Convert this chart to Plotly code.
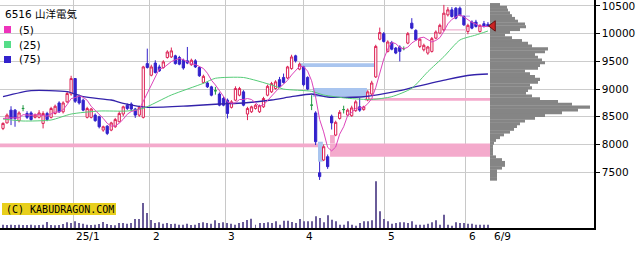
import plotly.graph_objects as go

# ---------------- data ----------------
days = list(range(122))
opens = [8290, 8390, 8620, 8620, 8430, 8650, 8560, 8570, 8490, 8490,
         8380, 8560, 8490, 8560, 8750, 8590, 8770, 8910, 9190, 8860,
         8800, 8490, 8490, 8530, 8500, 8260, 8330, 8260, 8320, 8410,
         8550, 8710, 8730, 8640, 8530, 8490, 9460, 9250, 9470, 9400,
         9390, 9570, 9580, 9600, 9570, 9520, 9510, 9440, 9510, 9390,
         9120, 9110, 9040, 8970, 8910, 8830, 8800, 8670, 8800, 8890,
         8950, 8550, 8590, 8650, 8590, 8680, 8890, 8950, 9010, 9170,
         9210, 9200, 9370, 9600, 9360, 9400, 9210, 8710, 8570, 7490,
         7720, 7780, 8510, 8170, 8470, 8630, 8530, 8520, 8610, 8680,
         8630, 8810, 8910, 9220, 9900, 10000, 9680, 9840, 9740, 9760,
         9730, 9830, 10190, 10060, 9770, 9710, 9650, 9680, 9920, 10010,
         10070, 10340, 10430, 10460, 10460, 10310, 10040, 10210, 10210, 10040,
         10180, 10170]
highs = [8400, 8560, 8690, 8640, 8600, 8710, 8600, 8600, 8560, 8620,
         8600, 8590, 8680, 8720, 8780, 8780, 8960, 9240, 9200, 8900,
         8830, 8680, 8660, 8560, 8520, 8340, 8350, 8410, 8480, 8600,
         8700, 8740, 8760, 8660, 8700, 9420, 9730, 9440, 9520, 9440,
         9520, 9700, 9750, 9620, 9600, 9550, 9760, 9550, 9540, 9410,
         9260, 9140, 9060, 9040, 8940, 8860, 8830, 8800, 9050, 9040,
         8980, 8680, 8700, 8730, 8720, 8860, 9080, 9130, 9160, 9220,
         9280, 9420, 9620, 9620, 9480, 9420, 9230, 8890, 8600, 7690,
         8000, 7820, 8540, 8430, 8620, 8700, 8650, 8700, 8800, 8840,
         8700, 8980, 9150, 9800, 10110, 10030, 9880, 9870, 9760, 9790,
         9770, 10030, 10280, 10080, 9920, 9820, 9780, 9940, 10060, 10180,
         10520, 10480, 10480, 10480, 10490, 10330, 10180, 10240, 10250, 10170,
         10230, 10210]
lows = [8260, 8380, 8350, 8320, 8400, 8600, 8460, 8430, 8470, 8470,
        8290, 8420, 8470, 8540, 8570, 8560, 8750, 8880, 8750, 8720,
        8600, 8470, 8470, 8410, 8290, 8230, 8170, 8240, 8300, 8400,
        8510, 8620, 8600, 8480, 8500, 8470, 9370, 9230, 9280, 9310,
        9370, 9550, 9560, 9440, 9430, 9350, 9450, 9420, 9380, 9220,
        9100, 9020, 8870, 8900, 8690, 8690, 8470, 8650, 8780, 8870,
        8690, 8440, 8570, 8630, 8570, 8660, 8870, 8930, 8990, 9020,
        9100, 9180, 9350, 9480, 9340, 9050, 8980, 8620, 7990, 7360,
        7700, 7560, 8270, 8150, 8450, 8560, 8510, 8500, 8590, 8590,
        8610, 8780, 8890, 9200, 9880, 9840, 9660, 9700, 9630, 9500,
        9700, 9810, 10080, 9870, 9740, 9680, 9620, 9660, 9900, 9990,
        10040, 10310, 10290, 10260, 10320, 10140, 9990, 10080, 10110, 10020,
        10110, 10120]
closes = [8380, 8530, 8470, 8470, 8570, 8650, 8490, 8450, 8530, 8570,
          8560, 8450, 8650, 8690, 8590, 8750, 8920, 9190, 8780, 8750,
          8620, 8650, 8640, 8430, 8320, 8320, 8200, 8390, 8450, 8560,
          8680, 8650, 8640, 8530, 8670, 9400, 9390, 9400, 9300, 9330,
          9490, 9670, 9690, 9460, 9450, 9380, 9470, 9520, 9400, 9240,
          9230, 9040, 8890, 8970, 8710, 8710, 8560, 8770, 9010, 9010,
          8710, 8650, 8680, 8710, 8700, 8830, 9050, 9100, 9130, 9040,
          9120, 9400, 9580, 9510, 9450, 9080, 9000, 8710, 8050, 7420,
          7960, 7600, 8390, 8400, 8580, 8630, 8620, 8660, 8770, 8620,
          8680, 8950, 9110, 9770, 10020, 9860, 9850, 9720, 9650, 9680,
          9730, 10000, 10100, 9890, 9900, 9790, 9760, 9910, 10030, 10150,
          10370, 10430, 10310, 10280, 10340, 10160, 10150, 10100, 10130, 10150,
          10130, 10140]
volumes = [66, 60, 66, 60, 66, 60, 60, 66, 54, 60,
           66, 120, 60, 54, 60, 80, 114, 100, 134, 100,
           86, 66, 60, 66, 80, 120, 80, 60, 54, 100,
           100, 86, 100, 180, 180, 500, 300, 160, 100, 114,
           86, 100, 80, 86, 66, 66, 86, 60, 66, 100,
           114, 100, 86, 154, 100, 114, 100, 86, 66, 100,
           120, 160, 186, 66, 100, 100, 114, 100, 134, 66,
           146, 146, 120, 100, 180, 134, 134, 134, 234, 200,
           114, 254, 166, 134, 66, 66, 134, 66, 46, 100,
           134, 134, 154, 934, 334, 180, 134, 86, 100, 114,
           114, 100, 134, 66, 66, 66, 86, 114, 154, 66,
           266, 66, 46, 114, 100, 100, 86, 86, 66, 66,
           66, 66]
ma5 = [8470, 8480, 8480, 8480, 8484, 8538, 8530, 8526, 8538, 8538,
       8520, 8512, 8552, 8584, 8588, 8626, 8720, 8828, 8846, 8878,
       8852, 8798, 8688, 8618, 8532, 8472, 8382, 8332, 8336, 8384,
       8456, 8546, 8596, 8612, 8634, 8778, 8926, 9078, 9232, 9364,
       9382, 9438, 9496, 9528, 9552, 9530, 9490, 9456, 9444, 9402,
       9372, 9286, 9160, 9074, 8968, 8864, 8768, 8744, 8752, 8812,
       8812, 8830, 8812, 8752, 8690, 8714, 8794, 8878, 8962, 9030,
       9088, 9158, 9254, 9330, 9412, 9404, 9324, 9150, 8858, 8452,
       8228, 7948, 7884, 7954, 8186, 8320, 8524, 8578, 8652, 8660,
       8670, 8736, 8826, 9026, 9306, 9542, 9722, 9844, 9820, 9752,
       9726, 9756, 9832, 9880, 9924, 9936, 9888, 9850, 9878, 9928,
       10044, 10178, 10258, 10306, 10344, 10302, 10246, 10204, 10174, 10136,
       10130, 10128]
ma25_day = [0, 5, 12, 17, 24, 31, 35, 42, 50, 53, 60, 67, 70, 77, 80, 86, 92, 97,
            102, 106, 110, 114, 118, 121]
ma25_val = [8460, 8424, 8442, 8550, 8604, 8604, 8653, 8893, 9104, 9195, 9209, 9074,
            9000, 8960, 8893, 8834, 8812, 8863, 9014, 9314, 9585, 9886, 9976, 10048]
ma75_day = [0, 7, 16, 20, 27, 30, 36, 46, 54, 60, 67, 72, 77, 81, 90, 99, 103, 111,
            117, 121]
ma75_val = [8862, 8971, 8953, 8862, 8803, 8743, 8671, 8695, 8731, 8749, 8803, 8862,
            8911, 8857, 8862, 8971, 9043, 9177, 9254, 9272]

profile_price = [10525, 10475, 10425, 10375, 10325, 10275, 10225, 10175, 10125, 10075,
                 10025, 9975, 9925, 9875, 9825, 9775, 9725, 9675, 9625, 9575,
                 9525, 9475, 9425, 9375, 9325, 9275, 9225, 9175, 9125, 9075,
                 9025, 8975, 8925, 8875, 8825, 8775, 8725, 8675, 8625, 8575,
                 8525, 8475, 8425, 8375, 8325, 8275, 8225, 8175, 8125, 8075,
                 8025, 7975, 7925, 7875, 7825, 7775, 7725, 7675, 7625, 7575,
                 7525, 7475, 7425, 7375]
profile_vol = [10, 17, 18, 20, 22, 25, 28, 35, 36, 30,
               20, 15, 22, 32, 38, 42, 58, 55, 45, 48,
               52, 55, 50, 48, 35, 40, 45, 50, 48, 40,
               42, 38, 36, 42, 50, 68, 82, 100, 88, 72,
               55, 45, 35, 30, 27, 24, 20, 14, 10, 6,
               4, 3, 3, 3, 3, 6, 12, 15, 15, 12,
               7, 7, 7, 7]

# price zones
band_start = [-0.75, 78.6, 81.6, 81.6, 74.1, 77.3, 90.3, 109.5, 114.0]
band_end = [78.6, 79.8, 121.6, 82.8, 92.8, 90.8, 121.6, 115.8, 116.5]
band_low = [7950, 7690, 7780, 8020, 9400, 8860, 8790, 10055, 10300]
band_high = [8020, 8050, 8020, 8170, 9465, 9020, 8840, 10085, 10330]
band_kind = ["pink", "blue", "pink", "pink", "blue", "blue", "pink", "ltpink", "lav"]

month_pos = [17.5, 36.6, 55.4, 74.9, 95.3, 115.5]
month_labels = ["25/1", "2", "3", "4", "5", "6"]
last_label = "6/9"
price_ticks = [7500, 8000, 8500, 9000, 9500, 10000, 10500]
price_labels = ["7500", "8000", "8500", "9000", "9500", "10000", "10500"]

title_text = "6516 山洋電気"
ma_labels = ["(5)", "(25)", "(75)"]
copyright_text = "(C) KABUDRAGON.COM"

# ---------------- styles ----------------
UP = "#dd2255"
DOWN = "#3322cc"
DOJI = "#229944"
MA5C = "#dd44bb"
MA25C = "#55cc77"
MA75C = "#3322aa"
band_colors = {"pink": "#f4aacc", "blue": "#a9c5ef", "ltpink": "#f2c4dc", "lav": "#c9bdf0"}
legend_sq = ["#ee33bb", "#55dd88", "#3322cc"]
FONT = "DejaVu Sans, Noto Sans CJK JP"
W, H = 639, 255
ML, MR, MT, MB = 0, 45, 0, 27
PW, PH = W - ML - MR, H - MT - MB

def px(xp):
    return xp / PW

def py(yp):
    return 1 - yp / PH

fig = go.Figure()

# volume
fig.add_trace(go.Bar(x=days, y=volumes, yaxis="y2", width=0.25,
                     marker=dict(color="#6a5c99", line=dict(width=0)),
                     hoverinfo="skip"))

normal = [i for i in days if opens[i] != closes[i]]
doji = [i for i in days if opens[i] == closes[i]]

fig.add_trace(go.Candlestick(
    x=[days[i] for i in normal], open=[opens[i] for i in normal],
    high=[highs[i] for i in normal], low=[lows[i] for i in normal],
    close=[closes[i] for i in normal], whiskerwidth=0,
    increasing=dict(line=dict(color=UP, width=1), fillcolor="white"),
    decreasing=dict(line=dict(color=DOWN, width=1), fillcolor=DOWN),
    hoverinfo="skip"))
fig.add_trace(go.Candlestick(
    x=[days[i] for i in doji], open=[opens[i] for i in doji],
    high=[highs[i] for i in doji], low=[lows[i] for i in doji],
    close=[closes[i] for i in doji], whiskerwidth=0,
    increasing=dict(line=dict(color=DOJI, width=1), fillcolor=DOJI),
    decreasing=dict(line=dict(color=DOJI, width=1), fillcolor=DOJI),
    hoverinfo="skip"))

fig.add_trace(go.Scatter(x=ma75_day, y=ma75_val, mode="lines",
                         line=dict(color=MA75C, width=1.3, shape="spline", smoothing=0.6),
                         hoverinfo="skip"))
fig.add_trace(go.Scatter(x=ma25_day, y=ma25_val, mode="lines",
                         line=dict(color=MA25C, width=1, shape="spline", smoothing=0.6),
                         hoverinfo="skip"))
fig.add_trace(go.Scatter(x=days, y=ma5, mode="lines",
                         line=dict(color=MA5C, width=1), hoverinfo="skip"))

# volume profile
fig.add_trace(go.Bar(y=profile_price, x=profile_vol, orientation="h", xaxis="x2",
                     width=56, marker=dict(color="#858585", line=dict(width=0)),
                     hoverinfo="skip"))
fig.add_trace(go.Scatter(x=[3], y=[closes[-1]], xaxis="x2", mode="markers",
                         marker=dict(symbol="triangle-left", size=9, color="#cc2222",
                                     line=dict(color="#661111", width=1)),
                         hoverinfo="skip"))

shapes = []
for s, e, lo, hi, k in zip(band_start, band_end, band_low, band_high, band_kind):
    shapes.append(dict(type="rect", xref="x", yref="y", x0=s, x1=e, y0=lo, y1=hi,
                       fillcolor=band_colors[k], line=dict(width=0), layer="between"))
# legend background
shapes.append(dict(type="rect", xref="paper", yref="paper", x0=0, x1=px(43),
                   y0=py(66), y1=py(22), fillcolor="white", line=dict(width=0),
                   layer="between"))
for j, c in enumerate(legend_sq):
    yc = 29.5 + 15 * j
    shapes.append(dict(type="rect", xref="paper", yref="paper", x0=px(4), x1=px(11),
                       y0=py(yc + 3.5), y1=py(yc - 3.5), fillcolor=c,
                       line=dict(width=0), layer="above"))
# copyright box
shapes.append(dict(type="rect", xref="paper", yref="paper", x0=px(2), x1=px(116),
                   y0=py(215), y1=py(203), fillcolor="#e8cf1c", line=dict(width=0),
                   layer="above"))

annotations = [dict(text=title_text, xref="paper", yref="paper", x=px(3), y=py(14),
                    xanchor="left", yanchor="middle", showarrow=False,
                    font=dict(family=FONT, size=10.5, color="black"))]
for j, t in enumerate(ma_labels):
    annotations.append(dict(text=t, xref="paper", yref="paper", x=px(17),
                            y=py(29.5 + 15 * j), xanchor="left", yanchor="middle",
                            showarrow=False, font=dict(family=FONT, size=10.5, color="black")))
annotations.append(dict(text=copyright_text, xref="paper", yref="paper", x=px(4), y=py(209),
                        xanchor="left", yanchor="middle", showarrow=False,
                        font=dict(family="DejaVu Sans Mono", size=10, color="black")))
for p, t in zip(month_pos, month_labels):
    annotations.append(dict(text=t, xref="x", yref="paper", x=p, y=py(236),
                            xanchor="left", yanchor="middle", xshift=1, showarrow=False,
                            font=dict(family=FONT, size=10.5, color="black")))
annotations.append(dict(text=last_label, xref="x", yref="paper", x=days[-1], y=py(236),
                        xanchor="left", yanchor="middle", xshift=4, showarrow=False,
                        font=dict(family=FONT, size=10.5, color="black")))

fig.update_layout(
    width=W, height=H, margin=dict(l=ML, r=MR, t=MT, b=MB),
    paper_bgcolor="white", plot_bgcolor="white", showlegend=False,
    boxgap=0.2,
    xaxis=dict(range=[-0.75, 147.46], tickvals=month_pos, showticklabels=False,
               showgrid=True, gridcolor="#c8c8c8", gridwidth=1, zeroline=False,
               showline=True, linecolor="black", linewidth=1.5, ticks="",
               rangeslider=dict(visible=False), fixedrange=True),
    xaxis2=dict(overlaying="x", range=[-490, 104], visible=False),
    yaxis=dict(range=[6492.6, 10608], tickvals=price_ticks, ticktext=price_labels,
               side="right", showgrid=True, gridcolor="#cccccc", gridwidth=1,
               zeroline=False, showline=True, linecolor="black", linewidth=1.5,
               ticks="outside", ticklen=4, tickcolor="black",
               ticklabeloverflow="allow",
               tickfont=dict(family=FONT, size=10.5, color="black")),
    yaxis2=dict(overlaying="y", range=[0, 4560], visible=False),
    shapes=shapes, annotations=annotations,
)

fig.write_html("out.html")
